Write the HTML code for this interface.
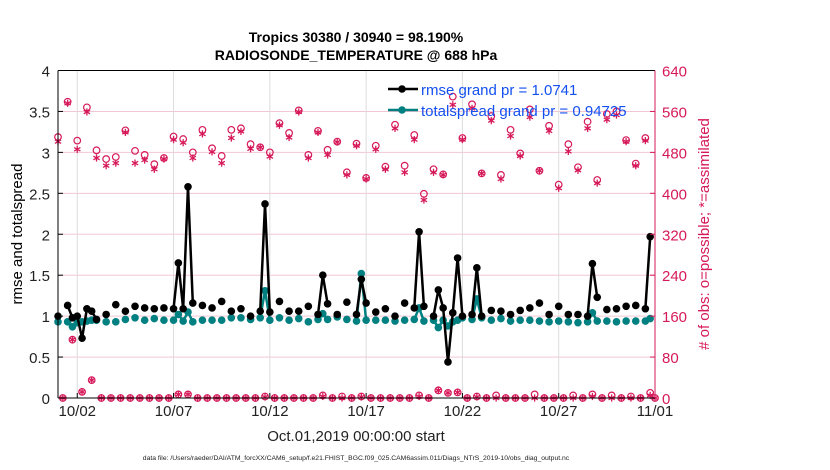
<!DOCTYPE html>
<html><head><meta charset="utf-8"><style>
body{margin:0;background:#fff;}
svg{display:block;font-family:"Liberation Sans",sans-serif;}
</style></head><body>
<svg id="chart" width="830" height="470" viewBox="0 0 830 470">
<text x="356" y="42" text-anchor="middle" font-size="14" font-weight="bold">Tropics 30380 / 30940 = 98.190%</text>
<text x="356" y="60" text-anchor="middle" font-size="14" font-weight="bold">RADIOSONDE_TEMPERATURE @ 688 hPa</text>
<g id="grid"></g>
<g id="marks"></g>
<g id="axes"></g>
<text transform="translate(22,234) rotate(-90)" text-anchor="middle" font-size="15">rmse and totalspread</text>
<text transform="translate(709,234) rotate(-90)" text-anchor="middle" font-size="15" fill="#d6195a"># of obs: o=possible; *=assimilated</text>
<text x="356" y="441" text-anchor="middle" font-size="15" fill="#222">Oct.01,2019 00:00:00 start</text>
<text x="356" y="460" text-anchor="middle" font-size="6.8" fill="#222">data file: /Users/raeder/DAI/ATM_forcXX/CAM6_setup/f.e21.FHIST_BGC.f09_025.CAM6assim.011/Diags_NTrS_2019-10/obs_diag_output.nc</text>
<g>
<line x1="388" y1="89" x2="418" y2="89" stroke="#000" stroke-width="2.5"/>
<circle cx="402" cy="89" r="3.8" fill="#000"/>
<text x="421" y="95" font-size="15" fill="#1450f0">rmse grand pr = 1.0741</text>
<line x1="388" y1="110" x2="418" y2="110" stroke="#008080" stroke-width="2.5"/>
<circle cx="402" cy="110" r="3.8" fill="#008080"/>
<text x="421" y="116" font-size="15" fill="#1450f0">totalspread grand pr = 0.94725</text>
</g>
</svg>
<script>
const rmse=[1.0,null,1.13,0.98,1.0,0.73,1.09,1.06,0.96,null,1.02,null,1.14,null,1.06,null,1.12,null,1.10,null,1.09,null,1.10,null,1.09,1.65,1.09,2.58,1.16,null,1.13,null,1.10,null,1.18,null,1.06,null,1.09,null,1.0,null,1.06,2.37,1.05,null,1.18,null,1.06,null,1.06,null,1.12,null,1.02,1.5,1.15,null,1.02,null,1.17,null,1.02,1.45,1.16,null,1.05,null,1.09,null,1.0,null,1.16,null,1.10,2.03,1.12,null,1.0,1.32,1.10,0.44,1.04,1.71,1.0,null,1.02,1.59,1.0,null,1.07,null,1.06,null,1.02,null,1.07,null,1.10,null,1.16,null,1.02,null,1.12,null,1.02,null,1.02,null,1.0,1.64,1.23,null,1.08,null,1.09,null,1.12,null,1.13,null,1.09,1.97,null];
const spread=[0.93,null,0.93,0.87,0.92,0.93,0.94,0.95,0.95,null,0.93,null,0.93,null,0.96,null,0.98,null,0.95,null,0.97,null,0.95,null,0.95,1.02,0.94,1.05,0.93,null,0.95,null,0.95,null,0.95,null,0.98,null,0.98,null,0.96,null,0.98,1.31,0.95,null,0.98,null,0.95,null,0.97,null,0.93,null,0.96,1.03,0.96,null,0.99,null,0.96,null,0.94,1.52,0.95,null,0.95,null,0.95,null,0.94,null,0.95,null,0.96,1.10,0.94,null,0.95,0.86,0.95,0.88,0.93,0.95,0.98,null,0.96,1.21,0.98,null,0.95,null,0.97,null,0.94,null,0.95,null,0.95,null,0.94,null,0.93,null,0.94,null,0.93,null,0.92,null,0.93,1.04,0.94,null,0.94,null,0.93,null,0.94,null,0.94,null,0.94,0.97,null];
const possible=[510,0,579,114,503,12,568,35,484,0,467,0,471,0,523,0,483,0,475,0,457,0,469,0,511,7,506,7,480,0,524,0,488,0,473,0,524,0,527,0,496,0,490,3,480,0,537,0,518,0,562,0,475,0,522,5,485,0,501,3,441,0,497,3,430,0,493,0,452,0,534,0,454,0,514,5,399,0,447,15,437,10,589,11,508,0,574,3,439,0,551,5,436,0,524,0,478,0,564,7,444,0,532,0,417,0,496,5,451,0,540,7,426,0,555,5,560,0,504,3,458,0,508,10,0];
const assimilated=[501,0,576,114,486,12,559,35,469,0,454,0,459,0,519,0,459,0,465,0,447,0,467,0,505,7,499,7,469,0,516,0,481,0,459,0,508,0,521,0,487,0,490,2,472,0,533,0,509,0,559,0,469,0,519,3,475,0,500,0,436,0,493,2,428,0,486,0,447,0,527,0,441,0,505,3,387,0,441,15,436,10,573,11,505,0,566,2,439,0,542,0,428,0,512,0,473,0,549,0,444,0,522,0,410,0,482,0,445,0,527,3,420,0,544,0,553,0,501,0,454,0,503,5,0];
const stepDays=0.25;
const leftTicks=[0,0.5,1,1.5,2,2.5,3,3.5,4];
const rightTicks=[0,80,160,240,320,400,480,560,640];
const xTickDays=[1,6,11,16,21,26,31];
const xTickLabels=["10/02","10/07","10/12","10/17","10/22","10/27","11/01"];

const NS="http://www.w3.org/2000/svg";
const X0=58,X1=655,Y0=398,Y1=70.5,PINK="#d6195a",TEAL="#008080";
const xs=d=>X0+(d/31)*(X1-X0);
const yl=v=>Y0-(v/4)*(Y0-Y1);
const yr=c=>Y0-(c/640)*(Y0-Y1);
function mk(tag,attrs,parent){const e=document.createElementNS(NS,tag);for(const k in attrs)e.setAttribute(k,attrs[k]);parent.appendChild(e);return e;}
const grid=document.getElementById('grid'),marks=document.getElementById('marks'),axes=document.getElementById('axes');

rightTicks.forEach((c,i)=>{
  const g=mk('line',{x1:X0,x2:X1,y1:yr(c),y2:yr(c),stroke:'#f3c6d6','stroke-width':1},grid);
  
  
  const t=mk('text',{x:X1+7,y:yr(c)+6,'font-size':15,fill:PINK},axes);
  t.textContent=c;
  
  
  mk('line',{x1:X1-5,x2:X1,y1:yr(c),y2:yr(c),stroke:PINK},axes);
});
xTickDays.forEach((d,i)=>{
  const g=mk('line',{x1:xs(d),x2:xs(d),y1:Y1,y2:Y0,stroke:'#dcdcdc','stroke-width':1},grid);
  
  
  const t=mk('text',{x:xs(d),y:Y0+18,'font-size':15,'text-anchor':'middle',fill:'#222'},axes);
  t.textContent=xTickLabels[i];
  
  
  mk('line',{x1:xs(d),x2:xs(d),y1:Y0,y2:Y0-5,stroke:'#000'},axes);
});
leftTicks.forEach(v=>{
  const t=mk('text',{x:X0-8,y:yl(v)+6,'font-size':15,'text-anchor':'end',fill:'#222'},axes);
  t.textContent=v;
  
  
  mk('line',{x1:X0,x2:X0+5,y1:yl(v),y2:yl(v),stroke:'#000'},axes);
});
const fr=mk('line',{x1:X0,y1:Y1,x2:X0,y2:Y0,stroke:'#000','stroke-width':1},axes);


const fb=mk('line',{x1:X0,y1:Y0,x2:X1,y2:Y0,stroke:'#000','stroke-width':1},axes);


mk('line',{x1:X0,y1:Y1,x2:X1,y2:Y1,stroke:'#000','stroke-width':1},axes);
const fR=mk('line',{x1:X1,y1:Y1,x2:X1,y2:Y0,stroke:PINK,'stroke-width':1},axes);



possible.forEach((c,i)=>{
  const x=xs(i*stepDays),y=yr(c);
  const o=mk('circle',{cx:x,cy:y,r:3.3,fill:'none',stroke:PINK,'stroke-width':1.2},marks);
  
  
});
assimilated.forEach((c,i)=>{
  const x=xs(i*stepDays),y=yr(c),r=3.6;
  const g=mk('g',{stroke:PINK,'stroke-width':1.3},marks);
  
  
  mk('line',{x1:x,y1:y-r,x2:x,y2:y+r},g);
  mk('line',{x1:x-r*0.87,y1:y-r/2,x2:x+r*0.87,y2:y+r/2},g);
  mk('line',{x1:x-r*0.87,y1:y+r/2,x2:x+r*0.87,y2:y-r/2},g);
});
function series(arr,color,name){
  let seg=[];
  const segs=[];
  arr.forEach((v,i)=>{if(v===null){if(seg.length)segs.push(seg);seg=[];}else seg.push([xs(i*stepDays),yl(v)]);});
  if(seg.length)segs.push(seg);
  segs.forEach(s=>{if(s.length>1){
    const p=mk('polyline',{points:s.map(q=>q.join(',')).join(' '),fill:'none',stroke:color,'stroke-width':2.5,'stroke-linejoin':'round'},marks);
    
    
  }});
  arr.forEach((v,i)=>{if(v!==null){
    const c=mk('circle',{cx:xs(i*stepDays),cy:yl(v),r:3.8,fill:color},marks);
    
    
  }});
}
series(spread,TEAL,'totalspread');
series(rmse,'#000','rmse');
</script>
</body></html>
